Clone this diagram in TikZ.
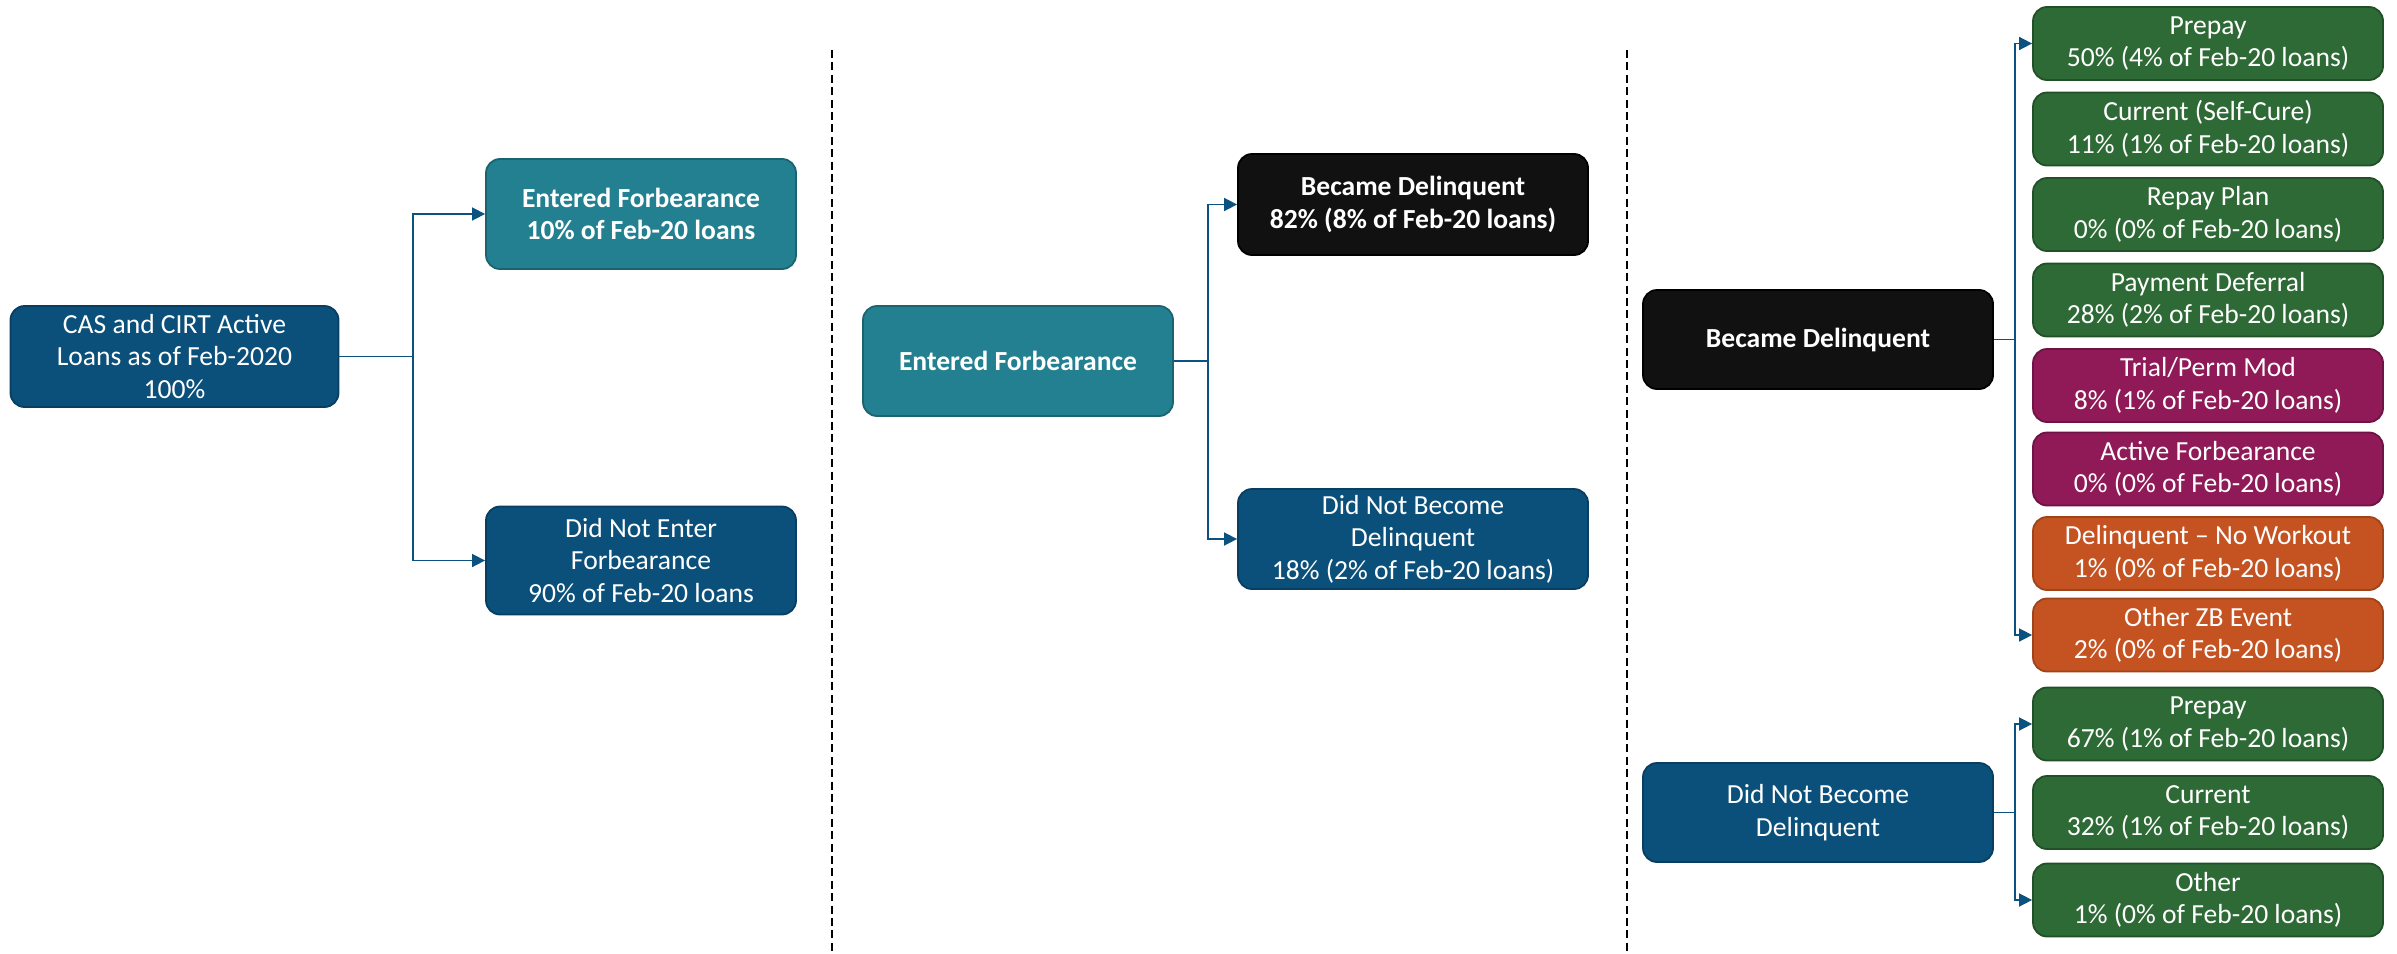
\documentclass[tikz,border=0pt]{standalone}
\usepackage{fontspec}
\setmainfont{Carlito}
\usetikzlibrary{arrows.meta}

\definecolor{navyF}{RGB}{11,80,122}
\definecolor{navyD}{RGB}{8,62,97}
\definecolor{tealF}{RGB}{35,128,144}
\definecolor{tealD}{RGB}{26,100,113}
\definecolor{inkF}{RGB}{17,17,17}
\definecolor{inkD}{RGB}{0,0,0}
\definecolor{grnF}{RGB}{46,106,54}
\definecolor{grnD}{RGB}{33,80,40}
\definecolor{magF}{RGB}{143,26,87}
\definecolor{magD}{RGB}{110,19,67}
\definecolor{orgF}{RGB}{197,83,34}
\definecolor{orgD}{RGB}{160,66,26}
\definecolor{wire}{RGB}{12,82,128}

\tikzset{
  box/.style={rectangle, rounded corners=7pt, line width=0.9pt, text=white,
    align=center, inner sep=0pt,
    font=\fontsize{13.8}{16.2}\selectfont},
  navy/.style={box, fill=navyF, draw=navyD},
  teal/.style={box, fill=tealF, draw=tealD, font=\fontsize{13.8}{16.2}\selectfont\bfseries},
  ink/.style={box, fill=inkF, draw=inkD, font=\fontsize{13.8}{16.2}\selectfont\bfseries},
  grn/.style={box, fill=grnF, draw=grnD},
  mag/.style={box, fill=magF, draw=magD},
  org/.style={box, fill=orgF, draw=orgD},
  leaf/.style={minimum width=175pt, minimum height=36.5pt},
  wirebase/.style={draw=wire, line width=0.8pt},
  wirearrow/.style={wirebase, -{Triangle[length=6.5pt,width=6.5pt]}},
  divider/.style={draw=black, line width=1.3pt, dash pattern=on 4pt off 2.2pt}
}

\begin{document}
\begin{tikzpicture}[x=0.5pt,y=-0.5pt]
\useasboundingbox (0,0) rectangle (2397,953);

% section dividers
\draw[divider] (832,50) -- (832,953);
\draw[divider] (1627,50) -- (1627,953);

% first stage
\node[navy, minimum width=164pt, minimum height=50.5pt] (root) at (174.5,356.5)
  {CAS and CIRT Active\\Loans as of Feb-2020\\100\%};
\node[teal, minimum width=155pt, minimum height=55pt] (ef1) at (641,214)
  {Entered Forbearance\\10\% of Feb-20 loans};
\node[navy, minimum width=155pt, minimum height=54pt] (dne) at (641,560.5)
  {Did Not Enter\\Forbearance\\90\% of Feb-20 loans};

% second stage
\node[teal, minimum width=155pt, minimum height=55pt] (ef2) at (1018,361)
  {Entered Forbearance};
\node[ink, minimum width=175pt, minimum height=50.5pt] (bd2) at (1413,204.5)
  {Became Delinquent\\82\% (8\% of Feb-20 loans)};
\node[navy, minimum width=175pt, minimum height=50pt] (dnbd2) at (1413,539)
  {Did Not Become\\Delinquent\\18\% (2\% of Feb-20 loans)};

% third stage
\node[ink, minimum width=175pt, minimum height=49.5pt] (bd3) at (1818,339.5)
  {Became Delinquent};
\node[navy, minimum width=175pt, minimum height=49.5pt] (dnbd3) at (1818,812.5)
  {Did Not Become\\Delinquent};

% outcomes of delinquent loans
\node[grn, leaf] (l1) at (2208,43.5)  {Prepay\\50\% (4\% of Feb-20 loans)};
\node[grn, leaf] (l2) at (2208,129)   {Current (Self-Cure)\\11\% (1\% of Feb-20 loans)};
\node[grn, leaf] (l3) at (2208,214.5) {Repay Plan\\0\% (0\% of Feb-20 loans)};
\node[grn, leaf] (l4) at (2208,300)   {Payment Deferral\\28\% (2\% of Feb-20 loans)};
\node[mag, leaf] (l5) at (2208,385.5) {Trial/Perm Mod\\8\% (1\% of Feb-20 loans)};
\node[mag, leaf] (l6) at (2208,469)   {Active Forbearance\\0\% (0\% of Feb-20 loans)};
\node[org, leaf] (l7) at (2208,553.5) {Delinquent – No Workout\\1\% (0\% of Feb-20 loans)};
\node[org, leaf] (l8) at (2208,635)   {Other ZB Event\\2\% (0\% of Feb-20 loans)};

% outcomes of non-delinquent loans
\node[grn, leaf] (m1) at (2208,724)   {Prepay\\67\% (1\% of Feb-20 loans)};
\node[grn, leaf] (m2) at (2208,812.5) {Current\\32\% (1\% of Feb-20 loans)};
\node[grn, leaf] (m3) at (2208,900)   {Other\\1\% (0\% of Feb-20 loans)};

% junction points
\coordinate (j1) at (413,356.5);
\coordinate (j2) at (1208,361);
\coordinate (j3) at (2015,339.5);
\coordinate (j4) at (2015,812.5);

% connectors
\draw[wirebase] (root.east) -- (j1);
\draw[wirearrow] (j1) |- (ef1.west);
\draw[wirearrow] (j1) |- (dne.west);

\draw[wirebase] (ef2.east) -- (j2);
\draw[wirearrow] (j2) |- (bd2.west);
\draw[wirearrow] (j2) |- (dnbd2.west);

\draw[wirebase] (bd3.east) -- (j3);
\draw[wirearrow] (j3) |- (l1.west);
\draw[wirearrow] (j3) |- (l8.west);

\draw[wirebase] (dnbd3.east) -- (j4);
\draw[wirearrow] (j4) |- (m1.west);
\draw[wirearrow] (j4) |- (m3.west);
\end{tikzpicture}
\end{document}
